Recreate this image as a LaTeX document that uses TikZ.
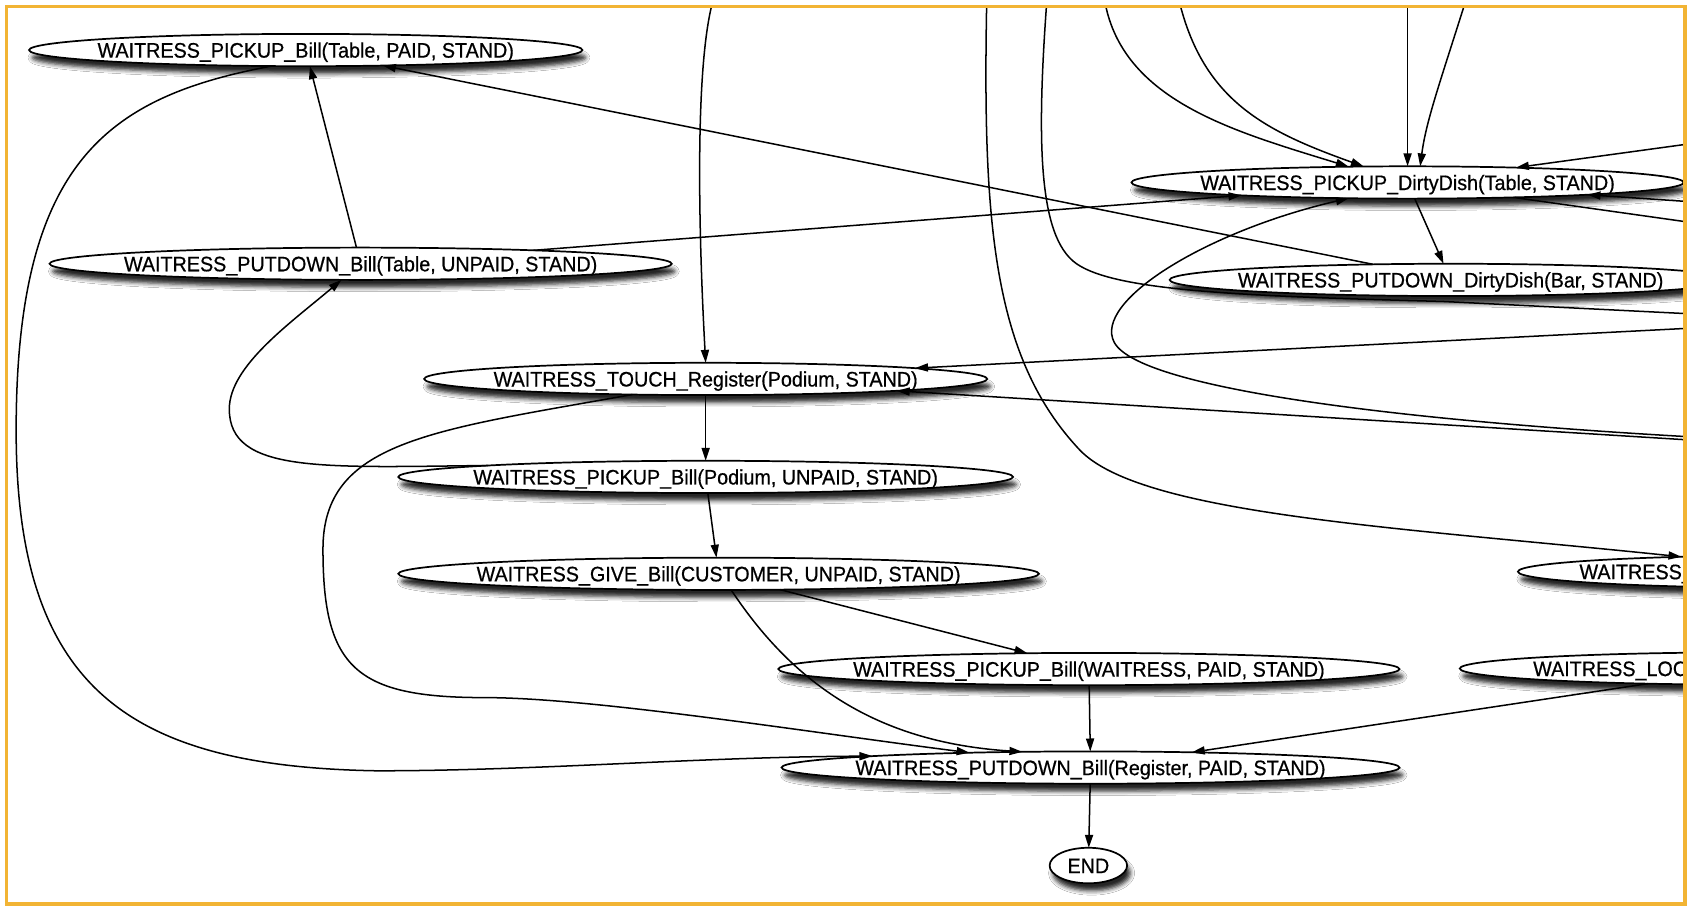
\documentclass[tikz,border=0pt]{standalone}
\usepackage{fontspec}
\setmainfont{Liberation Sans}[FakeStretch=0.94,FakeBold=0.6]
\usetikzlibrary{shapes.geometric,arrows.meta,shadows.blur}
\definecolor{frameor}{RGB}{242,180,52}
\newcommand\ctext[1]{\raisebox{-0.36em}[0pt][0pt]{\makebox[0pt]{#1}}}
\begin{document}
\begin{tikzpicture}[x=1pt,y=-1pt,
  ell/.style={ellipse, draw=black, line width=1.6pt, fill=white, inner sep=0pt, outer sep=0pt,
    minimum height=30pt,
    blur shadow={shadow xshift=3pt, shadow yshift=-7pt, shadow blur radius=4pt, shadow opacity=85},
    font=\fontsize{19.5}{20}\selectfont},
  txt/.style={inner sep=0pt, font=\fontsize{19.5}{20}\selectfont},
  edge/.style={line width=1.4pt, -{Triangle[length=12pt,width=7.5pt]}},
  plain/.style={line width=1.4pt}
]
\useasboundingbox (0,0) rectangle (1568,843);
\fill[white] (0,0) rectangle (1568,843);
\begin{scope}
\clip (7,7) rectangle (1564,839);
% nodes
\node[ell, minimum width=514pt] (pbt) at (284,46.5) {\ctext{WAITRESS\_PICKUP\_Bill(Table, PAID, STAND)}};
\node[ell, minimum width=578pt] (pdt) at (335,245) {\ctext{WAITRESS\_PUTDOWN\_Bill(Table, UNPAID, STAND)}};
\node[ell, minimum width=523pt] (tr) at (655.5,352) {\ctext{WAITRESS\_TOUCH\_Register(Podium, STAND)}};
\node[ell, minimum width=571pt] (pbp) at (655.5,443) {\ctext{WAITRESS\_PICKUP\_Bill(Podium, UNPAID, STAND)}};
\node[ell, minimum width=595pt] (gb) at (667.5,533) {\ctext{WAITRESS\_GIVE\_Bill(CUSTOMER, UNPAID, STAND)}};
\node[ell, minimum width=577pt] (pbw) at (1011.5,621.5) {\ctext{WAITRESS\_PICKUP\_Bill(WAITRESS, PAID, STAND)}};
\node[ell, minimum width=574pt] (pdr) at (1013,713) {\ctext{WAITRESS\_PUTDOWN\_Bill(Register, PAID, STAND)}};
\node[ell, minimum width=72pt, minimum height=33pt] (end) at (1011,804) {\ctext{END}};
\node[ell, minimum width=513pt] (pdd) at (1307.5,169.5) {\ctext{WAITRESS\_PICKUP\_DirtyDish(Table, STAND)}};
\node[ell, minimum width=522pt] (pdb) at (1347.5,260) {\ctext{WAITRESS\_PUTDOWN\_DirtyDish(Bar, STAND)}};
\node[ell, minimum width=500pt] (r1) at (1660,531) {};
\node[txt, anchor=base west] (r1t) at (1467,538) {WAITRESS\_};
\node[ell, minimum width=536pt] (r2) at (1624,621) {};
\node[txt, anchor=base west] (r2t) at (1424,628) {WAITRESS\_LOC};
% off-picture ends
\coordinate (o13) at (668,-15);
\coordinate (o14) at (917,-20);
\coordinate (o15a) at (974,-20);
\coordinate (o15b) at (1700,298);
\coordinate (o16) at (1024,-20);
\coordinate (o17) at (1091,-20);
\coordinate (o18) at (1307.5,-20);
\coordinate (o19) at (1368,-20);
\coordinate (o20) at (1800,102);
\coordinate (o21) at (1800,203);
\coordinate (o22) at (1800,239);
\coordinate (o24) at (1800,293);
\coordinate (o25) at (1800,423);
\coordinate (o26) at (1700,412);
% edges
\draw[edge] (pbt.-155) .. controls (100,90) and (15,150) .. (15,400)
  .. controls (15,640) and (120,712) .. (350,716)
  .. controls (500,716) and (650,703) .. (pdr.177.5);
\draw[edge] (pdt) -- (pbt);
\draw[edge] (pdb) -- (pbt);
\draw[edge] (pdt) -- (pdd);
\draw[edge] (tr.-168) .. controls (400,400) and (300,410) .. (300,510)
  .. controls (300,620) and (330,648) .. (450,648)
  .. controls (550,648) and (750,680) .. (pdr.173.8);
\draw[edge] (gb.-52) .. controls (740,640) and (820,690) .. (pdr.167.3);
\draw[edge] (gb) -- (pbw);
\draw[edge] (tr) -- (pbp);
\draw[edge] (pbp) -- (gb);
\draw[edge] (pbw) -- (pdr);
\draw[edge] (pdr) -- (end);
\draw[edge] (pbp.177.7) .. controls (300,434) and (213,440) .. (213,380)
  .. controls (213,340) and (270,300) .. (pdt.-140);
\draw[edge] (o13) .. controls (645,30) and (648,200) .. (tr.90);
\draw[edge] (o14) .. controls (912,200) and (920,330) .. (1003,418)
  .. controls (1060,478) and (1300,490) .. (r1.172.9);
\draw[plain] (o15a) .. controls (962,130) and (964,220) .. (1000,245)
  .. controls (1036,270) and (1150,275) .. (1340,280) -- (o15b);
\draw[edge] (o16) .. controls (1028,90) and (1140,120) .. (pdd.165.2);
\draw[edge] (o17) .. controls (1110,90) and (1170,120) .. (pdd.160.4);
\draw[edge] (o18) -- (pdd.90);
\draw[edge] (o19) .. controls (1340,70) and (1325,110) .. (pdd.52.5);
\draw[edge] (o20) -- (pdd);
\draw[edge] (o21) -- (pdd);
\draw[edge] (pdd) -- (o22);
\draw[edge] (pdd) -- (pdb);
\draw[edge] (o24) -- (tr);
\draw[edge] (o25) -- (tr);
\draw[edge] (o26) .. controls (1350,398) and (1060,365) .. (1035,318)
  .. controls (1015,280) and (1120,215) .. (pdd.-165.4);
\draw[edge] (r2) -- (pdr);
\end{scope}
\draw[frameor, line width=3.5pt] (6,6) rectangle (1565,840);
\end{tikzpicture}
\end{document}
